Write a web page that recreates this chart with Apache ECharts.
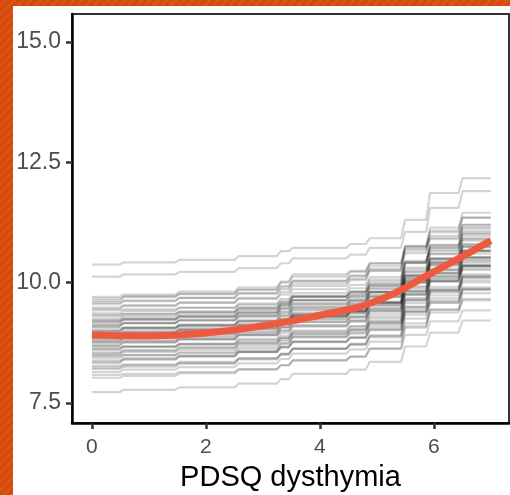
<!DOCTYPE html>
<html>
<head>
<meta charset="utf-8">
<script src="https://cdn.jsdelivr.net/npm/echarts@6/dist/echarts.min.js"></script>
<style>
  html, body { margin: 0; padding: 0; }
  body {
    width: 510px; height: 495px; overflow: hidden; position: relative;
    background: repeating-linear-gradient(135deg, #d24a0e 0 3px, #db5314 3px 6px);
  }
  #chart { position: absolute; left: 13px; top: 6px; width: 497px; height: 489px; background: #fff; }
</style>
</head>
<body>
<div id="chart"></div>
<script>
// x positions where the posterior draws step up
const stepBreaks = [0.52, 1.5, 2.54, 3.28, 3.49, 4.5, 4.84, 5.46, 5.9, 6.47];

// one row per posterior draw: level in each of the 11 segments
const draws = [
  [10.37, 10.42, 10.47, 10.55, 10.65, 10.72, 10.80, 10.92, 11.30, 11.86, 12.17],
  [10.12, 10.17, 10.22, 10.30, 10.40, 10.50, 10.58, 10.72, 11.05, 11.55, 11.90],
  [9.70, 9.75, 9.81, 9.90, 10.00, 10.12, 10.22, 10.40, 10.75, 11.08, 11.35],
  [9.66, 9.71, 9.76, 9.84, 9.93, 10.04, 10.13, 10.29, 10.61, 10.90, 11.15],
  [9.62, 9.70, 9.77, 9.86, 10.02, 10.17, 10.24, 10.40, 10.70, 10.97, 11.20],
  [9.58, 9.63, 9.68, 9.77, 9.86, 9.98, 10.08, 10.24, 10.73, 10.93, 11.20],
  [9.55, 9.61, 9.68, 9.78, 9.90, 10.03, 10.15, 10.35, 10.76, 11.14, 11.45],
  [9.48, 9.53, 9.58, 9.66, 9.75, 9.86, 9.95, 10.11, 10.43, 10.72, 10.97],
  [9.45, 9.51, 9.58, 9.68, 9.80, 9.93, 10.05, 10.25, 10.66, 11.04, 11.35],
  [9.42, 9.44, 9.48, 9.54, 9.62, 9.72, 9.80, 9.97, 10.40, 10.78, 11.12],
  [9.36, 9.41, 9.47, 9.56, 9.66, 9.78, 9.88, 10.06, 10.41, 10.74, 11.01],
  [9.33, 9.35, 9.39, 9.45, 9.53, 9.63, 9.71, 9.88, 10.31, 10.69, 11.03],
  [9.30, 9.35, 9.40, 9.49, 9.58, 9.70, 9.80, 9.96, 10.45, 10.65, 10.92],
  [9.25, 9.31, 9.37, 9.47, 9.58, 9.71, 9.82, 10.02, 10.41, 10.77, 11.07],
  [9.22, 9.27, 9.33, 9.42, 9.52, 9.64, 9.74, 9.92, 10.27, 10.60, 10.87],
  [9.20, 9.24, 9.29, 9.37, 9.46, 9.56, 9.64, 9.80, 10.09, 10.37, 10.60],
  [9.18, 9.23, 9.28, 9.36, 9.45, 9.56, 9.65, 9.81, 10.13, 10.42, 10.67],
  [9.15, 9.23, 9.30, 9.39, 9.55, 9.70, 9.77, 9.93, 10.23, 10.50, 10.73],
  [9.12, 9.16, 9.21, 9.29, 9.38, 9.48, 9.56, 9.72, 10.01, 10.29, 10.52],
  [9.10, 9.15, 9.21, 9.30, 9.40, 9.52, 9.62, 9.80, 10.15, 10.48, 10.75],
  [9.08, 9.16, 9.23, 9.32, 9.48, 9.63, 9.70, 9.86, 10.16, 10.43, 10.66],
  [9.05, 9.07, 9.11, 9.17, 9.25, 9.35, 9.43, 9.60, 10.03, 10.41, 10.75],
  [9.00, 9.06, 9.13, 9.23, 9.35, 9.48, 9.60, 9.80, 10.21, 10.59, 10.90],
  [9.00, 9.05, 9.11, 9.20, 9.30, 9.42, 9.52, 9.70, 10.05, 10.38, 10.65],
  [8.98, 9.04, 9.10, 9.20, 9.31, 9.44, 9.55, 9.75, 10.14, 10.50, 10.80],
  [8.95, 9.00, 9.05, 9.13, 9.22, 9.33, 9.42, 9.58, 9.90, 10.19, 10.44],
  [8.93, 8.97, 9.02, 9.10, 9.19, 9.29, 9.37, 9.53, 9.82, 10.10, 10.33],
  [8.91, 8.96, 9.01, 9.10, 9.19, 9.31, 9.41, 9.57, 10.06, 10.26, 10.53],
  [8.89, 8.95, 9.02, 9.12, 9.24, 9.37, 9.49, 9.69, 10.10, 10.48, 10.79],
  [8.87, 8.92, 8.98, 9.07, 9.17, 9.29, 9.39, 9.57, 9.92, 10.25, 10.52],
  [8.85, 8.90, 8.95, 9.04, 9.13, 9.25, 9.35, 9.51, 10.00, 10.20, 10.47],
  [8.83, 8.89, 8.95, 9.05, 9.16, 9.29, 9.40, 9.60, 9.99, 10.35, 10.65],
  [8.80, 8.85, 8.90, 8.98, 9.07, 9.18, 9.27, 9.43, 9.75, 10.04, 10.29],
  [8.78, 8.86, 8.93, 9.02, 9.18, 9.33, 9.40, 9.56, 9.86, 10.13, 10.36],
  [8.76, 8.81, 8.87, 8.96, 9.06, 9.18, 9.28, 9.46, 9.81, 10.14, 10.41],
  [8.74, 8.78, 8.83, 8.91, 9.00, 9.10, 9.18, 9.34, 9.63, 9.91, 10.14],
  [8.70, 8.75, 8.81, 8.90, 9.00, 9.12, 9.22, 9.40, 9.75, 10.08, 10.35],
  [8.68, 8.76, 8.83, 8.92, 9.08, 9.23, 9.30, 9.46, 9.76, 10.03, 10.26],
  [8.65, 8.67, 8.71, 8.77, 8.85, 8.95, 9.03, 9.20, 9.63, 10.01, 10.35],
  [8.62, 8.67, 8.72, 8.80, 8.89, 9.00, 9.09, 9.25, 9.57, 9.86, 10.11],
  [8.60, 8.66, 8.73, 8.83, 8.95, 9.08, 9.20, 9.40, 9.81, 10.19, 10.50],
  [8.55, 8.60, 8.65, 8.73, 8.82, 8.93, 9.02, 9.18, 9.50, 9.79, 10.04],
  [8.52, 8.58, 8.64, 8.74, 8.85, 8.98, 9.09, 9.29, 9.68, 10.04, 10.34],
  [8.50, 8.55, 8.60, 8.69, 8.78, 8.90, 9.00, 9.16, 9.65, 9.85, 10.12],
  [8.47, 8.49, 8.53, 8.59, 8.67, 8.77, 8.85, 9.02, 9.45, 9.83, 10.17],
  [8.44, 8.49, 8.55, 8.64, 8.74, 8.86, 8.96, 9.14, 9.49, 9.82, 10.09],
  [8.38, 8.43, 8.48, 8.56, 8.65, 8.76, 8.85, 9.01, 9.33, 9.62, 9.87],
  [8.35, 8.40, 8.46, 8.55, 8.65, 8.77, 8.87, 9.05, 9.40, 9.73, 10.00],
  [8.32, 8.40, 8.47, 8.56, 8.72, 8.87, 8.94, 9.10, 9.40, 9.67, 9.90],
  [8.26, 8.30, 8.35, 8.43, 8.52, 8.62, 8.70, 8.86, 9.15, 9.43, 9.66],
  [8.23, 8.28, 8.33, 8.42, 8.51, 8.63, 8.73, 8.89, 9.38, 9.58, 9.85],
  [8.20, 8.25, 8.31, 8.40, 8.50, 8.62, 8.72, 8.90, 9.25, 9.58, 9.85],
  [8.14, 8.19, 8.24, 8.32, 8.41, 8.52, 8.61, 8.77, 9.09, 9.38, 9.63],
  [8.08, 8.10, 8.14, 8.20, 8.28, 8.38, 8.46, 8.63, 9.06, 9.44, 9.78],
  [8.02, 8.06, 8.11, 8.19, 8.28, 8.38, 8.46, 8.62, 8.91, 9.19, 9.42],
  [7.72, 7.77, 7.82, 7.90, 7.99, 8.10, 8.19, 8.35, 8.67, 8.96, 9.21]
];

// mean effect curve
const trendX = [0, 1, 2, 3, 4, 5, 6, 7];
const trendY = [8.91, 8.89, 8.95, 9.1, 9.32, 9.62, 10.22, 10.87];

const xTicks = [0, 2, 4, 6];
const yTicks = [7.5, 10, 12.5, 15];

const chart = echarts.init(document.getElementById('chart'));

// turn each draw into a step path
const ramp = 0.035;
const drawSeries = draws.map(levels => {
  const pts = [[0, levels[0]]];
  stepBreaks.forEach((b, i) => {
    pts.push([b - ramp, levels[i]]);
    pts.push([b + ramp, levels[i + 1]]);
  });
  pts.push([7, levels[levels.length - 1]]);
  return {
    type: 'line',
    data: pts,
    symbol: 'none',
    silent: true,
    lineStyle: { color: 'rgba(0,0,0,0.17)', width: 2.2 },
    z: 2
  };
});

const font = 'Liberation Sans, Arial, sans-serif';

chart.setOption({
  animation: false,
  grid: {
    left: 59, right: 1, top: 8, bottom: 72,
    outerBoundsMode: 'none',
    show: true, borderColor: '#333', borderWidth: 2
  },
  xAxis: {
    type: 'value',
    min: -0.35,
    max: 7.32,
    name: 'PDSQ dysthymia',
    nameLocation: 'middle',
    nameGap: 40,
    nameTextStyle: { fontFamily: font, fontSize: 29, color: '#000' },
    axisLine: { show: true, onZero: false, lineStyle: { color: '#000', width: 2.5 } },
    axisTick: { show: true, customValues: xTicks, length: 6, lineStyle: { color: '#333', width: 2.5 } },
    axisLabel: { customValues: xTicks, fontFamily: font, fontSize: 21, color: '#4d4d4d', margin: 14 },
    splitLine: { show: false }
  },
  yAxis: {
    type: 'value',
    min: 7.08,
    max: 15.58,
    axisLine: { show: true, onZero: false, lineStyle: { color: '#000', width: 2.5 } },
    axisTick: { show: true, customValues: yTicks, length: 6, lineStyle: { color: '#333', width: 2.5 } },
    axisLabel: {
      customValues: yTicks, fontFamily: font, fontSize: 23, color: '#4d4d4d', margin: 11,
      formatter: v => v.toFixed(1)
    },
    splitLine: { show: false }
  },
  series: drawSeries.concat([{
    type: 'line',
    data: trendX.map((x, i) => [x, trendY[i]]),
    smooth: true,
    symbol: 'none',
    silent: true,
    lineStyle: { color: '#ee5a40', width: 7 },
    z: 5
  }])
});
</script>
</body>
</html>
